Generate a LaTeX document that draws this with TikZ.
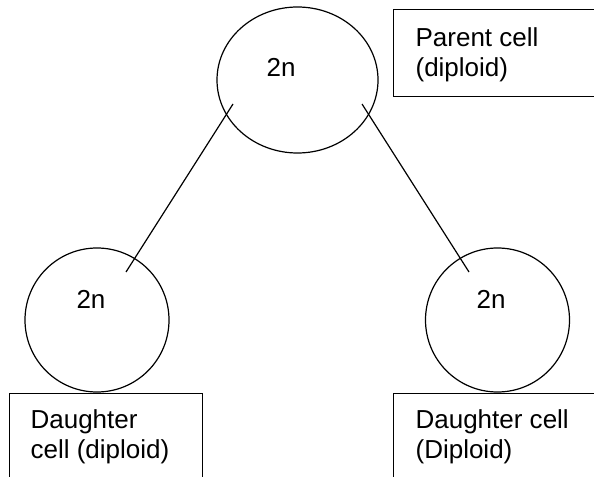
\documentclass[tikz,border=0pt]{standalone}
\usepackage{fontspec}
\setmainfont{Liberation Sans}
\usetikzlibrary{shapes.geometric}
\begin{document}
\begin{tikzpicture}[x=1bp,y=-1bp,line width=1.2bp,
  cell/.style={draw,ellipse,inner sep=0pt},
  boxnode/.style={draw,rectangle,inner sep=0pt,anchor=north west},
  lbl/.style={anchor=base west,inner sep=0pt,font=\fontsize{26bp}{30bp}\selectfont},
  num/.style={anchor=base,inner sep=0pt,font=\fontsize{26bp}{30bp}\selectfont}]
\clip (0,0) rectangle (594,477);
\fill[white] (0,0) rectangle (594,477);
% cells
\node[cell,minimum width=161bp,minimum height=146bp] (parent) at (297.5,80) {};
\node[cell,minimum size=144bp] (dleft) at (97,320) {};
\node[cell,minimum size=144bp] (dright) at (497.5,320) {};
\node[num] (n0) at (281,77) {2n};
\node[num] (n1) at (91,308) {2n};
\node[num] (n2) at (491,308) {2n};
% boxes
\node[boxnode,minimum width=220bp,minimum height=87bp] (pbox) at (393,9) {};
\node[boxnode,minimum width=193bp,minimum height=100bp] (lbox) at (9,392.5) {};
\node[boxnode,minimum width=220bp,minimum height=100bp] (rbox) at (393,392.5) {};
\node[lbl] (pt1) at (415,47) {Parent cell};
\node[lbl] (pt2) at (415,77) {(diploid)};
\node[lbl] (lt1) at (30,428) {Daughter};
\node[lbl] (lt2) at (30,458) {cell (diploid)};
\node[lbl] (rt1) at (415,428) {Daughter cell};
\node[lbl] (rt2) at (415,458) {(Diploid)};
% connectors
\coordinate (a1) at (233,104);
\coordinate (a2) at (126,272);
\coordinate (b1) at (362,104);
\coordinate (b2) at (469,272);
\draw (a1) -- (a2);
\draw (b1) -- (b2);
\end{tikzpicture}
\end{document}
